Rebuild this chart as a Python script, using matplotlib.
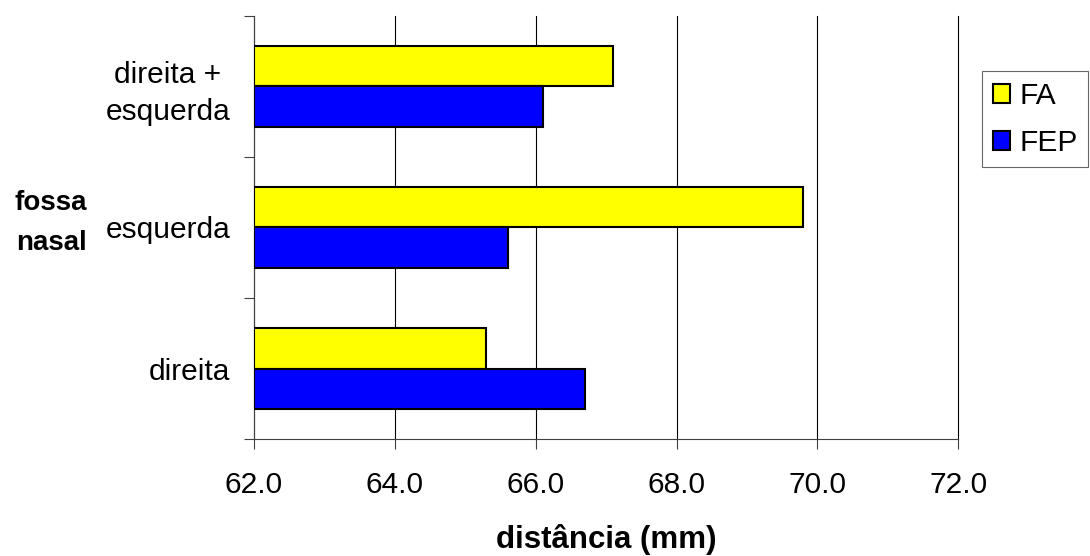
import matplotlib
matplotlib.use('Agg')
import matplotlib.pyplot as plt
import numpy as np

plt.rcParams['font.family'] = ['Liberation Sans', 'DejaVu Sans']

# dados
categorias = ['direita', 'esquerda', 'direita +\nesquerda']
fa = [65.3, 69.8, 67.1]
fep = [66.7, 65.6, 66.1]
series = ['FA', 'FEP']
x_ticks = [62.0, 64.0, 66.0, 68.0, 70.0, 72.0]

fig = plt.figure(figsize=(10.9, 5.56), dpi=100)
ax = fig.add_axes([0.2330, 0.2099, 0.6462, 0.7619])

y = np.arange(len(categorias))
h = 1 / 3.5  # gap width 150%
base = x_ticks[0]
ax.barh(y + h / 2, np.array(fa) - base, h, left=base, color='#FFFF00',
        edgecolor='black', linewidth=1.5, label=series[0], zorder=3)
ax.barh(y - h / 2, np.array(fep) - base, h, left=base, color='#0000FF',
        edgecolor='black', linewidth=1.5, label=series[1], zorder=3)

ax.set_xlim(62, 72)
ax.set_ylim(-0.5, 2.5)
ax.set_xticks(x_ticks)
ax.set_xticklabels(['%.1f' % v for v in x_ticks], fontsize=21.5)
ax.grid(axis='x', color='black', linewidth=0.8, zorder=0)
ax.set_axisbelow(True)
for gl in ax.get_xgridlines():
    gl.set_clip_on(False)

# ticks nas fronteiras das categorias, rotulos no centro
ax.set_yticks([-0.5, 0.5, 1.5, 2.5])
ax.set_yticklabels([])
ax.set_yticks(y, minor=True)
ax.set_yticklabels(categorias, minor=True, fontsize=21.5, ha='right',
                   multialignment='center', linespacing=1.4)
ax.tick_params(axis='y', which='minor', length=0, pad=17)
ax.tick_params(axis='y', which='major', length=7, width=0.8, color='#404040')
ax.tick_params(axis='x', length=7, width=0.8, color='#404040', pad=16)

for s in ['top', 'right']:
    ax.spines[s].set_visible(False)
for s in ['left', 'bottom']:
    ax.spines[s].set_color('#404040')
    ax.spines[s].set_linewidth(0.8)

ax.set_xlabel('distância (mm)', fontsize=22.5, fontweight='bold', va='top')
ax.xaxis.set_label_coords(0.5, -0.2)
ax.set_ylabel('fossa\nnasal', fontsize=20, fontweight='bold', rotation=0,
              ha='center', va='center', linespacing=1.7)
ax.yaxis.set_label_coords(-0.288, 0.511)

leg = fig.legend(loc='upper left', bbox_to_anchor=(0.901, 0.872),
                 fontsize=21.5, frameon=True, fancybox=False, shadow=False,
                 handlelength=0.6, handleheight=0.6, handletextpad=0.3,
                 borderpad=0.35, labelspacing=0.65, borderaxespad=0)
leg.get_frame().set_edgecolor('#404040')
leg.get_frame().set_linewidth(0.8)
for p in leg.get_patches():
    p.set_linewidth(1.5)

fig.savefig('out.png', dpi=100)
